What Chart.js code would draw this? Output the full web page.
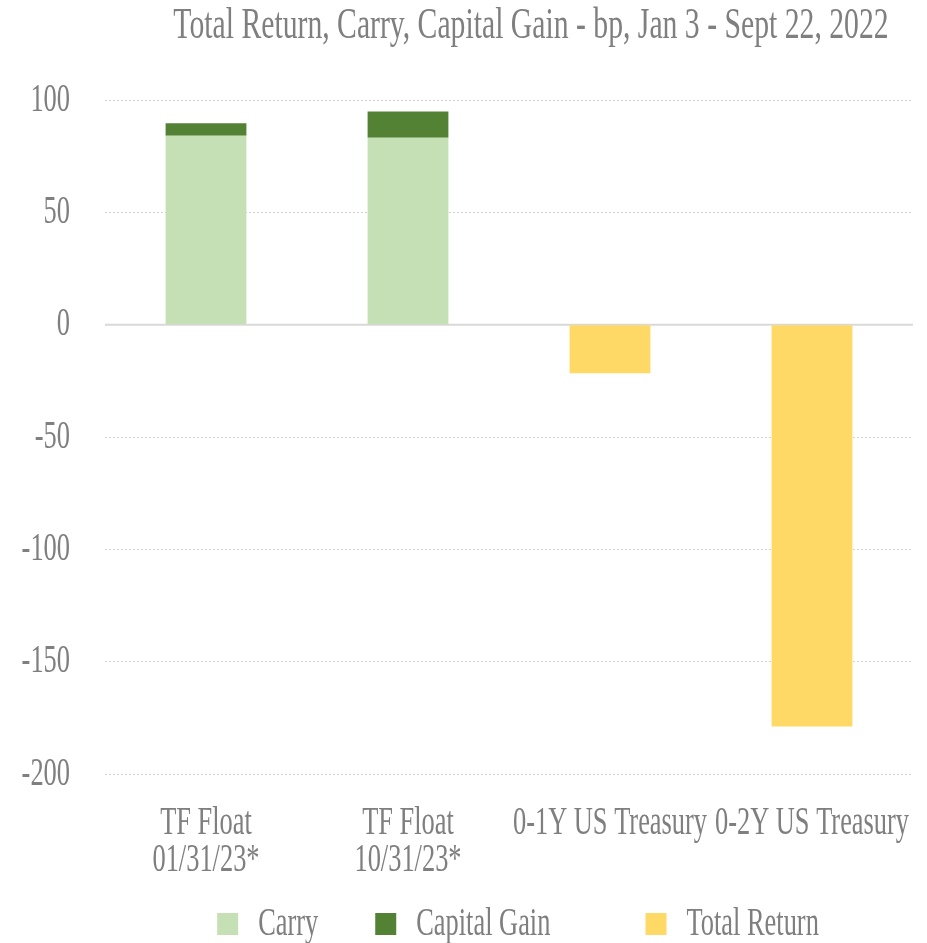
<!DOCTYPE html>
<html>
<head>
<meta charset="utf-8">
<script src="https://cdn.jsdelivr.net/npm/chart.js@4.4.1/dist/chart.umd.min.js"></script>
<style>
  html, body { margin: 0; padding: 0; background: #ffffff; }
  #wrap { width: 927px; height: 943px; position: relative; }
</style>
</head>
<body>
<div id="wrap"><canvas id="c" width="927" height="943"></canvas></div>
<script>
// ---- data ----
const titleText = "Total Return, Carry, Capital Gain - bp, Jan 3 - Sept 22, 2022";
const categories = [["TF Float", "01/31/23*"], ["TF Float", "10/31/23*"], "0-1Y US Treasury", "0-2Y US Treasury"];
const carry = [84.1, 83.2, null, null];
const capitalGain = [5.5, 11.7, null, null];
const totalReturn = [null, null, -21.6, -178.9];
const yTicks = [100, 50, 0, -50, -100, -150, -200];

// condensed look: draw text horizontally squeezed (no condensed serif face installed)
const SQUEEZE = 0.66;
const origFill = CanvasRenderingContext2D.prototype.fillText;
CanvasRenderingContext2D.prototype.fillText = function (text, x, y, maxWidth) {
  const w = this.measureText(text).width * SQUEEZE;
  const mw = (maxWidth === undefined || maxWidth === null || isNaN(maxWidth)) ? w : Math.min(maxWidth, w);
  return origFill.call(this, text, x, y, mw);
};

const FONT = "'Liberation Serif', 'Times New Roman', serif";
const GRAY = '#7f7f7f';

const titlePlugin = {
  id: 'customTitle',
  afterDraw(chart) {
    const ctx = chart.ctx;
    ctx.save();
    ctx.font = "45px " + FONT;
    ctx.fillStyle = GRAY;
    ctx.textAlign = 'center';
    ctx.textBaseline = 'alphabetic';
    ctx.fillText(titleText, 531, 38);
    ctx.restore();
  }
};

const zeroLinePlugin = {
  id: 'zeroLine',
  beforeDatasetsDraw(chart) {
    const y = chart.scales.y.getPixelForValue(0);
    const a = chart.chartArea;
    const ctx = chart.ctx;
    ctx.save();
    ctx.strokeStyle = '#d9d9d9';
    ctx.lineWidth = 2;
    ctx.beginPath();
    ctx.moveTo(a.left, y);
    ctx.lineTo(a.right, y);
    ctx.stroke();
    ctx.restore();
  }
};

new Chart(document.getElementById('c'), {
  type: 'bar',
  data: {
    labels: categories,
    datasets: [
      { label: 'Carry', data: carry, backgroundColor: '#c5e0b4', stack: 's' },
      { label: 'Capital Gain', data: capitalGain, backgroundColor: '#548235', stack: 's' },
      { label: 'Total Return', data: totalReturn, backgroundColor: '#ffd966', stack: 's' }
    ]
  },
  options: {
    responsive: false,
    animation: false,
    maintainAspectRatio: false,
    layout: { padding: { top: 100, right: 14, left: 0, bottom: -11 } },
    datasets: { bar: { categoryPercentage: 0.8, barPercentage: 0.5 } },
    plugins: {
      title: { display: false },
      tooltip: { enabled: false },
      legend: {
        position: 'bottom',
        align: 'end',
        labels: {
          color: GRAY,
          font: { family: FONT, size: 40 },
          boxWidth: 21,
          boxHeight: 22,
          padding: 26
        }
      }
    },
    scales: {
      x: {
        stacked: true,
        grid: { display: false, drawTicks: false },
        border: { display: false },
        afterFit(scale) { scale.paddingLeft = 0; scale.paddingRight = 0; scale.height = 104; },
        ticks: {
          color: GRAY,
          font: { family: FONT, size: 40, lineHeight: 0.92 },
          maxRotation: 0, minRotation: 0, autoSkip: false,
          padding: 31
        }
      },
      y: {
        stacked: true,
        min: -200, max: 100,
        afterFit(scale) { scale.width = 105; },
        afterBuildTicks(scale) { scale.ticks = yTicks.map(v => ({ value: v })); },
        grid: { color: '#d0d0d0', lineWidth: 1, drawTicks: false },
        border: { display: false, dash: [2, 2] },
        ticks: {
          color: GRAY,
          font: { family: FONT, size: 40 },
          padding: 35
        }
      }
    }
  },
  plugins: [titlePlugin, zeroLinePlugin]
});
</script>
</body>
</html>
